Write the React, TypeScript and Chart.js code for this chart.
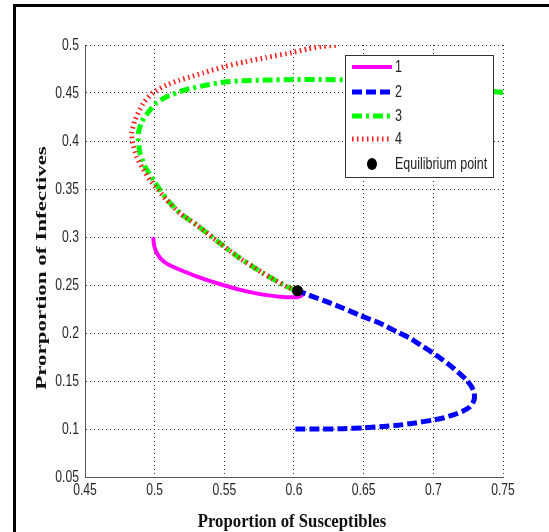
import React, { useEffect, useRef } from "react";
import { Chart, registerables } from "chart.js";

Chart.register(...registerables);

// ---- data ----
const X_TICKS = [0.45, 0.5, 0.55, 0.6, 0.65, 0.7, 0.75];
const Y_TICKS = [0.05, 0.1, 0.15, 0.2, 0.25, 0.3, 0.35, 0.4, 0.45, 0.5];
const SERIES_LABELS = ["1", "2", "3", "4", "Equilibrium point"];
const X_TITLE = "Proportion of Susceptibles";
const Y_TITLE = "Prorportion of Infectives";

// trajectory 1 (magenta)
const S1 = [0.499, 0.4995, 0.501, 0.504, 0.509, 0.516, 0.523, 0.53, 0.54, 0.549, 0.56, 0.573, 0.582, 0.59, 0.597, 0.603, 0.606, 0.6025];
const I1 = [0.3, 0.292, 0.285, 0.278, 0.272, 0.2672, 0.263, 0.259, 0.254, 0.25, 0.2455, 0.2413, 0.2392, 0.2378, 0.2372, 0.2375, 0.24, 0.244];

// trajectory 2 (blue)
const S2 = [0.601, 0.62, 0.635, 0.65, 0.6617, 0.675, 0.6857, 0.7, 0.707, 0.7143, 0.721, 0.7263, 0.7292, 0.7294, 0.7275, 0.7239, 0.7195, 0.7132, 0.7036, 0.7, 0.6928, 0.684, 0.6737, 0.6617, 0.648, 0.635, 0.6234, 0.6136, 0.61, 0.6025];
const I2 = [0.1, 0.1, 0.1003, 0.1012, 0.1024, 0.104, 0.106, 0.1094, 0.1115, 0.1146, 0.1185, 0.1232, 0.13, 0.1372, 0.144, 0.151, 0.157, 0.1649, 0.1753, 0.179, 0.1857, 0.194, 0.2014, 0.2101, 0.218, 0.226, 0.2326, 0.2378, 0.24, 0.244];

// trajectory 3 (green)
const S3 = [0.75, 0.743, 0.72, 0.7, 0.68, 0.66, 0.64, 0.62, 0.6, 0.58, 0.56, 0.55, 0.5373, 0.525, 0.518, 0.5086, 0.5015, 0.4967, 0.4907, 0.4883, 0.4882, 0.4895, 0.4931, 0.499, 0.5038, 0.5086, 0.5182, 0.5302, 0.5385, 0.5469, 0.5612, 0.578, 0.5947, 0.6025];
const I3 = [0.4505, 0.4515, 0.455, 0.458, 0.461, 0.463, 0.4638, 0.464, 0.464, 0.4635, 0.4625, 0.4615, 0.4583, 0.4545, 0.4514, 0.4462, 0.44, 0.4323, 0.42, 0.408, 0.401, 0.3872, 0.3733, 0.3594, 0.349, 0.3395, 0.3247, 0.3125, 0.303, 0.2934, 0.2778, 0.2622, 0.2483, 0.244];

// trajectory 4 (red)
const S4 = [0.63, 0.62, 0.61, 0.6, 0.58, 0.565, 0.55, 0.535, 0.525, 0.518, 0.5086, 0.499, 0.4919, 0.4859, 0.4835, 0.4842, 0.487, 0.4907, 0.4966, 0.5026, 0.508, 0.5182, 0.5302, 0.5385, 0.5469, 0.5612, 0.578, 0.5947, 0.6025];
const I4 = [0.4995, 0.4985, 0.496, 0.4925, 0.487, 0.4825, 0.4775, 0.471, 0.4665, 0.4635, 0.4583, 0.4505, 0.4393, 0.4219, 0.408, 0.3976, 0.3837, 0.3733, 0.3594, 0.349, 0.3395, 0.3247, 0.3125, 0.303, 0.2934, 0.2778, 0.2622, 0.2483, 0.244];

// equilibrium point
const EQ_S = [0.6025];
const EQ_I = [0.244];

const pts = (xs: number[], ys: number[]) => xs.map((x, i) => ({ x, y: ys[i] }));

const SANS = "'Liberation Sans', Arial, sans-serif";
const SERIF = "'Liberation Serif', 'Times New Roman', serif";
const TEXT_SQUEEZE = 0.76;

const fmt = (v: number) => String(parseFloat(Number(v).toFixed(2)));

// draws condensed tick labels, positioned by the chart's own scales
const tickLabelPlugin = {
  id: "narrowTicks",
  afterDraw(chart: any) {
    const ctx = chart.ctx as CanvasRenderingContext2D;
    const xs = chart.scales.x;
    const ys = chart.scales.y;
    ctx.save();
    ctx.fillStyle = "#262626";
    ctx.font = `16px ${SANS}`;
    xs.ticks.forEach((t: any) => {
      const px = xs.getPixelForValue(t.value);
      ctx.save();
      ctx.translate(px, xs.top + 14);
      ctx.scale(TEXT_SQUEEZE, 1);
      ctx.textAlign = "center";
      ctx.textBaseline = "middle";
      ctx.fillText(fmt(t.value), 0, 0);
      ctx.restore();
    });
    ys.ticks.forEach((t: any) => {
      const py = ys.getPixelForValue(t.value);
      ctx.save();
      ctx.translate(ys.right - 6, py + 1);
      ctx.scale(TEXT_SQUEEZE, 1);
      ctx.textAlign = "right";
      ctx.textBaseline = "middle";
      ctx.fillText(fmt(t.value), 0, 0);
      ctx.restore();
    });
    ctx.restore();
  },
};

const legendPlugin = {
  id: "boxLegend",
  afterDatasetsDraw(chart: any) {
    const ctx = chart.ctx as CanvasRenderingContext2D;
    const bx = 345.5, by = 55.5, bw = 148, bh = 122;
    const rows = [67, 92, 116, 139, 164];
    ctx.save();
    ctx.fillStyle = "#ffffff";
    ctx.fillRect(bx, by, bw, bh);
    ctx.strokeStyle = "#333333";
    ctx.lineWidth = 1;
    ctx.setLineDash([]);
    ctx.strokeRect(bx, by, bw, bh);
    chart.data.datasets.forEach((ds: any, i: number) => {
      const y = rows[i];
      if (ds.showLine === false) {
        ctx.beginPath();
        ctx.fillStyle = ds.backgroundColor;
        ctx.ellipse(372, y, 5, 6, 0, 0, Math.PI * 2);
        ctx.fill();
      } else {
        ctx.beginPath();
        ctx.setLineDash(ds.borderDash || []);
        ctx.lineCap = "butt";
        ctx.lineWidth = ds.borderWidth;
        ctx.strokeStyle = ds.borderColor;
        ctx.moveTo(352, y);
        ctx.lineTo(392, y);
        ctx.stroke();
        ctx.setLineDash([]);
      }
      ctx.save();
      ctx.translate(395, y + 1);
      ctx.scale(0.78, 1);
      ctx.fillStyle = "#222222";
      ctx.font = `16px ${SANS}`;
      ctx.textAlign = "left";
      ctx.textBaseline = "middle";
      ctx.fillText(ds.label, 0, 0);
      ctx.restore();
    });
    ctx.restore();
  },
};

const titlePlugin = {
  id: "axisTitles",
  afterDraw(chart: any) {
    const ctx = chart.ctx as CanvasRenderingContext2D;
    ctx.save();
    ctx.fillStyle = "#111111";
    ctx.textAlign = "center";
    ctx.textBaseline = "alphabetic";
    ctx.save();
    ctx.translate(292, 527);
    ctx.scale(0.93, 1);
    ctx.font = `bold 18px ${SERIF}`;
    ctx.fillText(X_TITLE, 0, 0);
    ctx.restore();
    ctx.save();
    ctx.translate(46, 268);
    ctx.rotate(-Math.PI / 2);
    ctx.scale(1, 0.62);
    ctx.font = `bold 23px ${SERIF}`;
    ctx.fillText(Y_TITLE, 0, 0);
    ctx.restore();
    ctx.restore();
  },
};

export default function App() {
  const ref = useRef<HTMLCanvasElement | null>(null);

  useEffect(() => {
    if (!ref.current) return;
    const chart = new Chart(ref.current, {
      type: "scatter",
      data: {
        datasets: [
          {
            label: SERIES_LABELS[0],
            data: pts(S1, I1),
            showLine: true,
            borderColor: "#ff00ff",
            backgroundColor: "#ff00ff",
            borderWidth: 4,
            borderDash: [],
            pointRadius: 0,
            tension: 0.2,
            order: 4,
          },
          {
            label: SERIES_LABELS[1],
            data: pts(S2, I2),
            showLine: true,
            borderColor: "#0000ff",
            backgroundColor: "#0000ff",
            borderWidth: 5,
            borderDash: [10, 4],
            borderCapStyle: "butt",
            pointRadius: 0,
            tension: 0.2,
            order: 3,
          },
          {
            label: SERIES_LABELS[2],
            data: pts(S3, I3),
            showLine: true,
            borderColor: "#00ff00",
            backgroundColor: "#00ff00",
            borderWidth: 5,
            borderDash: [10, 4, 3, 4],
            borderCapStyle: "butt",
            pointRadius: 0,
            tension: 0.2,
            order: 2,
          },
          {
            label: SERIES_LABELS[3],
            data: pts(S4, I4),
            showLine: true,
            borderColor: "#ff1a1a",
            backgroundColor: "#ff1a1a",
            borderWidth: 5,
            borderDash: [1.5, 3.5],
            borderCapStyle: "butt",
            pointRadius: 0,
            tension: 0.2,
            order: 1,
          },
          {
            label: SERIES_LABELS[4],
            data: pts(EQ_S, EQ_I),
            showLine: false,
            borderColor: "#000000",
            backgroundColor: "#000000",
            pointRadius: 5.5,
            pointBorderWidth: 0,
            order: 0,
          },
        ] as any,
      },
      options: {
        animation: false,
        responsive: false,
        events: [],
        layout: { padding: { top: 45, right: 46, left: 0, bottom: 0 } },
        plugins: {
          legend: { display: false },
          tooltip: { enabled: false },
        },
        scales: {
          x: {
            type: "linear",
            min: X_TICKS[0],
            max: X_TICKS[X_TICKS.length - 1],
            afterBuildTicks: (s: any) => {
              s.ticks = X_TICKS.map((v) => ({ value: v }));
            },
            afterFit: (s: any) => {
              s.height = 55;
            },
            ticks: { display: false, autoSkip: false },
            grid: { color: "#333333", lineWidth: 1, drawTicks: false },
            border: { display: true, color: "#555555", width: 1, dash: [1, 3] },
            title: { display: false },
          },
          y: {
            type: "linear",
            min: Y_TICKS[0],
            max: Y_TICKS[Y_TICKS.length - 1],
            afterBuildTicks: (s: any) => {
              s.ticks = Y_TICKS.map((v) => ({ value: v }));
            },
            afterFit: (s: any) => {
              s.width = 85;
            },
            ticks: { display: false, autoSkip: false },
            grid: { color: "#333333", lineWidth: 1, drawTicks: false },
            border: { display: true, color: "#555555", width: 1, dash: [1, 3] },
            title: { display: false },
          },
        },
      } as any,
      plugins: [legendPlugin, tickLabelPlugin, titlePlugin],
    });
    return () => chart.destroy();
  }, []);

  return (
    <div style={{ position: "fixed", left: 0, top: 0, width: 549, height: 532, background: "#fff" }}>
      <canvas ref={ref} width={549} height={532} style={{ position: "absolute", left: 0, top: 0 }} />
      <div style={{ position: "absolute", left: 13, top: 4, width: 3, height: 528, background: "#000" }} />
      <div style={{ position: "absolute", left: 13, top: 4, width: 536, height: 3, background: "#000" }} />
    </div>
  );
}
